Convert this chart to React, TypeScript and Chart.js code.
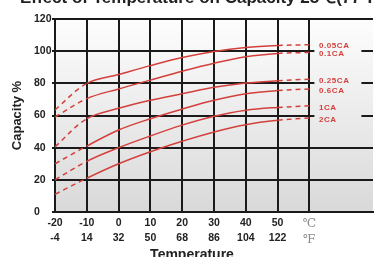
import React, { useEffect, useRef } from "react";
import { Chart, registerables } from "chart.js";

Chart.register(...registerables);

// ---- data ----
const temperatures = [-20, -10, 0, 10, 20, 30, 40, 50, 60];
const celsiusLabels = ["-20", "-10", "0", "10", "20", "30", "40", "50", "℃"];
const fahrenheitLabels = ["-4", "14", "32", "50", "68", "86", "104", "122", "℉"];
const seriesNames = ["0.05CA", "0.1CA", "0.25CA", "0.6CA", "1CA", "2CA"];
const cap005 = [63.5, 80, 85.5, 91, 96, 99.8, 102.3, 103.5, 104];
const cap01 = [59, 70.5, 76.5, 82, 87.5, 92.5, 96.5, 98.6, 99.2];
const cap025 = [40.5, 58, 64.5, 69.5, 73.5, 77.5, 80.2, 81.6, 82.6];
const cap06 = [30, 41, 51, 58, 64, 69.5, 73.5, 75.5, 76.5];
const cap1 = [20, 31.5, 40, 47.3, 54, 59.5, 63.3, 65, 66];
const cap2 = [11, 21, 30, 37.5, 44, 49.8, 54.3, 57, 58.5];
const seriesValues = [cap005, cap01, cap025, cap06, cap1, cap2];
const yTicks = [0, 20, 40, 60, 80, 100, 120];

const titleText = "Effect of Temperature on Capacity 25℃(77°F)";
const xTitle = "Temperature";
const yTitle = "Capacity %";

const RED = "#d3403c";
const FONT = "'Liberation Sans', Arial, sans-serif";
const OFFSET = 16; // canvas is shifted up so the title is half cut

function makeGradient(ctx: CanvasRenderingContext2D, top: number, bottom: number) {
  const g = ctx.createLinearGradient(0, top, 0, bottom);
  g.addColorStop(0, "#fdfdfd");
  g.addColorStop(1, "#d9d9d9");
  return g;
}

const decorPlugin = {
  id: "decor",
  beforeDraw(chart: any) {
    const { ctx, chartArea } = chart;
    ctx.save();
    ctx.fillStyle = "#ffffff";
    ctx.fillRect(0, 0, chart.width, chart.height);
    ctx.fillStyle = makeGradient(ctx, chartArea.top, chartArea.bottom);
    ctx.fillRect(chartArea.left, chartArea.top, chartArea.right - chartArea.left, chartArea.bottom - chartArea.top);
    ctx.restore();
  },
  beforeDatasetsDraw(chart: any) {
    // clear grid behind the series labels
    const { ctx, chartArea } = chart;
    const x = chart.scales.x;
    const y = chart.scales.y;
    const x0 = x.getPixelForValue(60) + 5;
    const x1 = x0 + 47;
    const yTop = y.getPixelForValue(110);
    const yBot = y.getPixelForValue(52);
    ctx.save();
    ctx.fillStyle = makeGradient(ctx, chartArea.top, chartArea.bottom);
    ctx.fillRect(x0, yTop, x1 - x0, yBot - yTop);
    ctx.restore();
  },
  afterDatasetsDraw(chart: any) {
    const { ctx } = chart;
    ctx.save();
    ctx.fillStyle = RED;
    ctx.font = `bold 8px ${FONT}`;
    (ctx as any).letterSpacing = "0.6px";
    ctx.textAlign = "left";
    ctx.textBaseline = "middle";
    chart.data.datasets.forEach((ds: any, i: number) => {
      const meta = chart.getDatasetMeta(i);
      const pt = meta.data[meta.data.length - 1];
      ctx.fillText(ds.label, pt.x + 9.5, pt.y + 1.5);
    });
    ctx.restore();
  },
  afterDraw(chart: any) {
    const { ctx, chartArea } = chart;
    ctx.save();
    ctx.fillStyle = "#222";
    ctx.textBaseline = "alphabetic";
    ctx.textAlign = "left";
    ctx.font = `bold 17px ${FONT}`;
    ctx.fillText(titleText, 20, 3 + OFFSET);
    ctx.font = `bold 14px ${FONT}`;
    ctx.textAlign = "center";
    ctx.fillText(xTitle, 192, 259 + OFFSET);
    ctx.translate(17, (chartArea.top + chartArea.bottom) / 2);
    ctx.rotate(-Math.PI / 2);
    ctx.font = `bold 13px ${FONT}`;
    ctx.textBaseline = "middle";
    ctx.fillText(yTitle, 0, 0);
    ctx.restore();
  },
};

export default function App() {
  const ref = useRef<HTMLCanvasElement>(null);
  useEffect(() => {
    if (!ref.current) return;
    const chart = new Chart(ref.current, {
      type: "line",
      data: {
        datasets: seriesNames.map((name, i) => ({
          label: name,
          data: temperatures.map((t, j) => ({ x: t, y: seriesValues[i][j] })),
          borderColor: RED,
          borderWidth: 1.5,
          pointRadius: 0,
          fill: false,
          tension: 0.35,
          segment: {
            borderDash: (c: any) =>
              c.p0.parsed.x < -10 || c.p0.parsed.x >= 50 ? [5, 4] : undefined,
          },
        })),
      },
      options: {
        animation: false,
        responsive: false,
        layout: { padding: { left: 34, top: 35, right: 0, bottom: 0 } },
        plugins: { legend: { display: false }, tooltip: { enabled: false }, title: { display: false } },
        scales: {
          x: {
            type: "linear",
            min: -20,
            max: 80,
            afterFit: (s: any) => { s.height = 45; },
            border: { display: true, color: "#1a1a1a", width: 2 },
            grid: {
              color: (c: any) => (c.tick && c.tick.value <= 60 ? "#1a1a1a" : "rgba(0,0,0,0)"),
              lineWidth: 2,
              drawTicks: false,
            },
            ticks: {
              stepSize: 10,
              autoSkip: false,
              maxRotation: 0,
              padding: 4,
              callback: (v: any) => {
                const i = temperatures.indexOf(Number(v));
                return i >= 0 ? [celsiusLabels[i], fahrenheitLabels[i]] : "";
              },
              color: (c: any) => (c.tick && c.tick.value === 60 ? "#8a8a8a" : "#222"),
              font: (c: any) =>
                c.tick && c.tick.value === 60
                  ? { family: "'DejaVu Serif', 'Noto Sans CJK SC', serif", size: 12, weight: "normal", lineHeight: 1.3 }
                  : { family: FONT, size: 10.5, weight: "bold", lineHeight: 1.4 },
            },
          },
          y: {
            min: 0,
            max: 120,
            afterFit: (s: any) => { s.width = 21; },
            afterBuildTicks: (s: any) => { s.ticks = yTicks.map((v) => ({ value: v })); },
            border: { display: true, color: "#1a1a1a", width: 2 },
            grid: { color: "#1a1a1a", lineWidth: 2, tickLength: 3 },
            ticks: {
              crossAlign: "far",
              color: "#222",
              font: { family: FONT, size: 10.5, weight: "bold" },
            },
          },
        },
      },
      plugins: [decorPlugin],
    });
    return () => chart.destroy();
  }, []);
  return (
    <div style={{ position: "fixed", left: 0, top: -OFFSET, width: 377, height: 257 + OFFSET }}>
      <canvas ref={ref} width={377} height={257 + OFFSET} style={{ display: "block" }} />
    </div>
  );
}
